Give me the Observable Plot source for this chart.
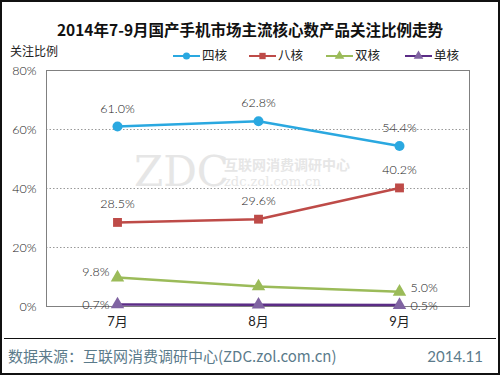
<!DOCTYPE html>
<html><head><meta charset="utf-8">
<script src="https://cdn.jsdelivr.net/npm/d3@7"></script>
<script src="https://cdn.jsdelivr.net/npm/@observablehq/plot@0.6"></script>
<style>
body{margin:0;background:#fff;}
#chart svg{display:block;}
</style>
</head><body><div id="chart"></div>
<script>
const months = ["7月", "8月", "9月"];
const seriesNames = ["四核", "八核", "双核", "单核"];
const quad = [61.0, 62.8, 54.4];
const octa = [28.5, 29.6, 40.2];
const dual = [9.8, 6.8, 5.0];
const single = [0.7, 0.6, 0.5];
const yTicks = [0, 20, 40, 60, 80];
const lineColors = ["#2AA8E0", "#BE4B48", "#9BBB59", "#5B2C86"];
const markColors = ["#2AA8E0", "#BE4B48", "#9BBB59", "#8064A2"];
const symbols = ["circle", "square", "triangle", "triangle"];
const title = "2014年7-9月国产手机市场主流核心数产品关注比例走势";
const yLabel = "关注比例";
const source = "数据来源：互联网消费调研中心(ZDC.zol.com.cn)";
const dateText = "2014.11";

const seriesValues = [quad, octa, dual, single];
const rows = [];
seriesNames.forEach((s, si) => {
  seriesValues[si].forEach((v, mi) => rows.push({series: s, month: months[mi], value: v, si, mi}));
});
const last = months.length - 1;
// labels: first two series above every point; others only at ends, left / right
const above = rows.filter(d => d.si < 2);
const dualLeft = rows.filter(d => d.si === 2 && d.mi === 0);
const dualRight = rows.filter(d => d.si === 2 && d.mi === last);
const singleLeft = rows.filter(d => d.si === 3 && d.mi === 0);
const singleRight = rows.filter(d => d.si === 3 && d.mi === last);
const fmt = d => d.value.toFixed(1) + "%";
const FONT = "Lato, 'Noto Sans CJK SC', sans-serif";
const CJK = "'Noto Sans CJK SC', sans-serif";
const lab = {x: "month", y: "value", text: fmt, fontSize: 12.5, fill: "#222", fontWeight: 300};

const plot = Plot.plot({
  width: 500, height: 375,
  marginTop: 70, marginBottom: 69, marginLeft: 46, marginRight: 31,
  style: {fontFamily: FONT, background: "#fff"},
  x: {type: "point", domain: months, padding: 0.5, label: null},
  y: {domain: [0, 80], label: null},
  color: {domain: seriesNames, range: lineColors},
  symbol: {domain: seriesNames, range: symbols},
  marks: [
    Plot.gridY([20, 40, 60], {stroke: "#999", strokeOpacity: 1, strokeDasharray: "1.5,2"}),
    Plot.frame({stroke: "#808080", strokeWidth: 1}),
    Plot.axisY(yTicks, {tickSize: 0, tickPadding: 10, tickFormat: d => d + "%", fontSize: 12.5, fill: "#222", fontWeight: 300, label: null}),
    Plot.axisX({tickSize: 0, tickPadding: 10, fontSize: 13, fill: "#222", label: null}),
    Plot.line(rows, {x: "month", y: "value", z: "series", stroke: "series", strokeWidth: 2.5}),
    Plot.dot(rows, {x: "month", y: "value", symbol: "series", fill: d => markColors[d.si], r: 5, stroke: "none"}),
    Plot.text(above, {...lab, dy: -18}),
    Plot.text(dualLeft, {...lab, dx: -8, dy: -6, textAnchor: "end"}),
    Plot.text(singleLeft, {...lab, dx: -8, dy: 1, textAnchor: "end"}),
    Plot.text(dualRight, {...lab, dx: 11, dy: -4, textAnchor: "start"}),
    Plot.text(singleRight, {...lab, dx: 11, dy: 1, textAnchor: "start"})
  ]
});
document.getElementById("chart").appendChild(plot);

const svg = d3.select(plot);
// watermark behind everything
const wm = svg.insert("g", ":first-child").attr("fill", "#e6e6e6").attr("text-anchor", "start");
wm.append("text").attr("x", 134).attr("y", 186).attr("font-size", 42).style("font-family", "'DejaVu Serif', serif").text("ZDC");
wm.append("text").attr("x", 224).attr("y", 170).attr("font-size", 14).style("font-family", CJK).attr("font-weight", "bold").text("互联网消费调研中心");
wm.append("text").attr("x", 224).attr("y", 186).attr("font-size", 13).style("font-family", "'DejaVu Serif', serif").text("zdc.zol.com.cn");

// outer border
svg.append("rect").attr("x", 1).attr("y", 1).attr("width", 498).attr("height", 373)
  .attr("fill", "none").attr("stroke", "#111").attr("stroke-width", 2);
// title
svg.append("text").attr("x", 250).attr("y", 36).attr("text-anchor", "middle")
  .attr("font-size", 15.5).attr("font-weight", "bold").attr("fill", "#111")
  .style("font-family", CJK).text(title);
// y label
svg.append("text").attr("x", 10).attr("y", 56).attr("text-anchor", "start").attr("font-size", 12).attr("fill", "#222")
  .style("font-family", CJK).text(yLabel);
// legend
const legX = [173, 249, 326, 405];
seriesNames.forEach((s, i) => {
  const g = svg.append("g").attr("transform", `translate(${legX[i]},56)`);
  g.append("line").attr("x1", 0).attr("x2", 27).attr("stroke", lineColors[i]).attr("stroke-width", 2);
  g.append("path").attr("transform", "translate(13.5,0)")
    .attr("d", d3.symbol(i === 0 ? d3.symbolCircle : i === 1 ? d3.symbolSquare : d3.symbolTriangle, 40)())
    .attr("fill", markColors[i]);
  g.append("text").attr("x", 29).attr("dy", "0.35em").attr("text-anchor", "start").attr("font-size", 12.5).attr("fill", "#222")
    .style("font-family", CJK).text(s);
});
// separator & footer
svg.append("line").attr("x1", 4).attr("x2", 496).attr("y1", 338.5).attr("y2", 338.5).attr("stroke", "#111").attr("stroke-width", 1.2);
svg.append("text").attr("x", 8).attr("y", 362).attr("text-anchor", "start").attr("font-size", 15).attr("fill", "#5B7B8B")
  .style("font-family", CJK).text(source);
svg.append("text").attr("x", 483).attr("y", 362).attr("text-anchor", "end").attr("font-size", 15).attr("fill", "#5B7B8B")
  .style("font-family", FONT).text(dateText);
</script>
</body></html>
